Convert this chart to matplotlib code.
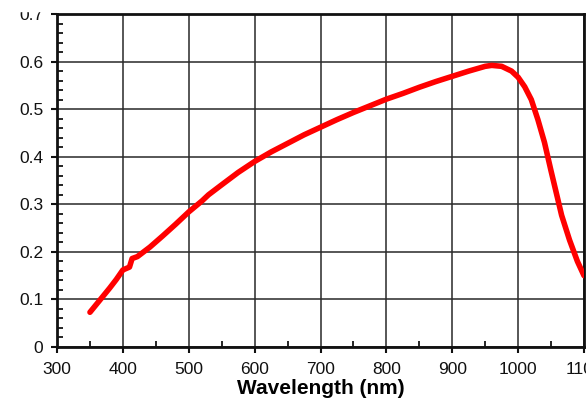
import matplotlib.pyplot as plt
from matplotlib.patches import Rectangle
from matplotlib.ticker import MultipleLocator

# responsivity curve
wavelength = [350, 360, 370, 380, 390, 400, 410, 414, 422, 441, 460, 480,
              500, 520, 530, 550, 575, 600, 625, 650, 675, 700, 725, 750, 775,
              800, 825, 850, 875, 900, 925, 950, 960, 975, 990, 1000, 1010,
              1020, 1030, 1040, 1050, 1060, 1066, 1078, 1090, 1100]
response = [0.073, 0.090, 0.107, 0.124, 0.142, 0.162, 0.168, 0.186, 0.190,
            0.210, 0.233, 0.258, 0.284, 0.307, 0.320, 0.341, 0.367,
            0.390, 0.410, 0.428, 0.446, 0.462, 0.478, 0.493, 0.507, 0.521,
            0.533, 0.546, 0.558, 0.569, 0.580, 0.590, 0.592, 0.590, 0.580,
            0.567, 0.547, 0.520, 0.478, 0.430, 0.370, 0.312, 0.277, 0.225,
            0.180, 0.150]

x_ticks = [300, 400, 500, 600, 700, 800, 900, 1000, 1100]
y_ticks = [0, 0.1, 0.2, 0.3, 0.4, 0.5, 0.6, 0.7]
y_labels = ["0", "0.1", "0.2", "0.3", "0.4", "0.5", "0.6", "0.7"]

plt.rcParams["font.family"] = ["Liberation Sans", "DejaVu Sans"]

fig = plt.figure(figsize=(5.86, 3.99), dpi=100)
ax = fig.add_axes([0.0973, 0.1303, 0.8993, 0.8346])

ax.plot(wavelength, response, color="#ff0000", lw=4,
        solid_capstyle="round", solid_joinstyle="round", zorder=3)

ax.set_xlim(300, 1100)
ax.set_ylim(0, 0.7)
ax.set_xticks(x_ticks)
ax.set_yticks(y_ticks)
ax.set_yticklabels(y_labels)
ax.xaxis.set_minor_locator(MultipleLocator(50))
ax.yaxis.set_minor_locator(MultipleLocator(0.02))

ax.grid(True, which="major", color="#2a2a2a", lw=1.3, alpha=0.85)
ax.tick_params(which="major", direction="out", length=4, width=1.5,
               labelsize=12.5, colors="#111111")
ax.tick_params(axis="x", which="major", pad=7)
ax.tick_params(axis="y", which="major", pad=6)
ax.tick_params(which="minor", direction="in", length=4, width=1.2)

for side in ax.spines.values():
    side.set_linewidth(2.0)
    side.set_color("#111111")

ax.set_xlabel("Wavelength (nm)", fontsize=15, fontweight="bold", labelpad=1)

# the top of the image is cut off in the reference
fig.add_artist(Rectangle((0, (399 - 11) / 399), 1, 11 / 399,
                         transform=fig.transFigure, color="white", zorder=10))

fig.savefig("out.png", dpi=100)
